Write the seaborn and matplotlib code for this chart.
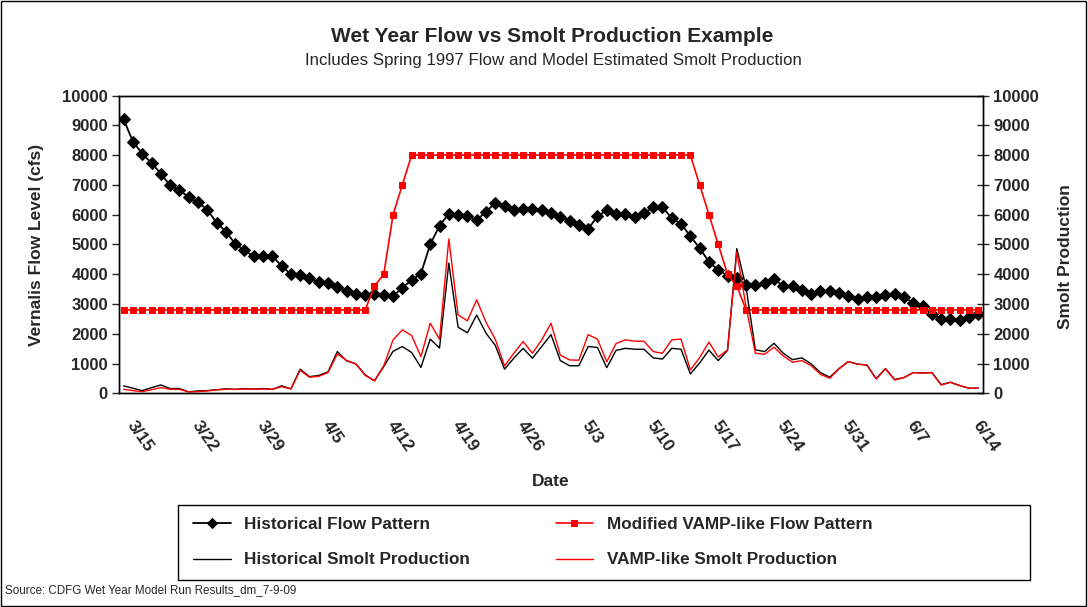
import numpy as np
import pandas as pd
import matplotlib
matplotlib.use('Agg')
import matplotlib.pyplot as plt
import seaborn as sns
from matplotlib.patches import Rectangle

# daily categories, 3/15 .. 6/15 (1997)
dates = pd.date_range('1997-03-15', periods=93)
date_labels = ['3/15', '3/22', '3/29', '4/5', '4/12', '4/19', '4/26',
               '5/3', '5/10', '5/17', '5/24', '5/31', '6/7', '6/14']

hist_flow = [9200, 8450, 8050, 7730, 7380, 6980, 6820, 6590, 6410, 6170,
             5730, 5430, 5020, 4800, 4600, 4600, 4600, 4280, 4000, 3970,
             3860, 3730, 3690, 3580, 3440, 3350, 3290, 3340, 3290, 3260,
             3550, 3800, 4020, 5000, 5630, 6030, 5980, 5940, 5810, 6100,
             6390, 6290, 6170, 6190, 6190, 6140, 6050, 5920, 5790, 5660,
             5520, 5940, 6150, 6020, 6010, 5930, 6040, 6260, 6260, 5870,
             5700, 5270, 4880, 4410, 4140, 3950, 3860, 3650, 3650, 3700,
             3830, 3610, 3610, 3460, 3340, 3430, 3430, 3380, 3260, 3170,
             3240, 3240, 3290, 3320, 3230, 3030, 2920, 2660, 2490, 2480,
             2470, 2560, 2670]

vamp_flow = [2800] * 27 + [3600, 4000, 6000, 7000] + [8000] * 31 + \
            [7000, 6000, 5000, 4000, 3600] + [2800] * 26

hist_smolt = [250, 170, 90, 190, 280, 160, 160, 50, 80, 90,
              120, 150, 130, 160, 140, 160, 130, 250, 150, 810,
              560, 600, 720, 1400, 1090, 990, 620, 420, 900, 1410,
              1570, 1370, 870, 1820, 1520, 4370, 2220, 2030, 2630, 2020,
              1610, 810, 1180, 1510, 1180, 1570, 1970, 1100, 925, 925,
              1570, 1540, 860, 1440, 1510, 1480, 1480, 1190, 1150, 1510,
              1480, 650, 1020, 1450, 1100, 1440, 4860, 3550, 1460, 1400,
              1680, 1345, 1130, 1190, 990, 695, 540, 830, 1065, 980,
              950, 490, 830, 460, 530, 695, 685, 695, 290, 370,
              260, 170, 170]

vamp_smolt = [135, 90, 56, 120, 190, 135, 135, 45, 56, 80,
              112, 135, 135, 146, 135, 146, 135, 224, 146, 773,
              540, 570, 695, 1320, 1100, 987, 600, 420, 925, 1794,
              2130, 1939, 1233, 2354, 1816, 5179, 2634, 2433, 3139, 2388,
              1816, 919, 1345, 1738, 1345, 1794, 2354, 1280, 1121, 1110,
              1970, 1820, 1060, 1670, 1794, 1750, 1750, 1401, 1345, 1794,
              1820, 785, 1200, 1720, 1220, 1457, 4750, 2900, 1345, 1311,
              1547, 1255, 1043, 1099, 930, 639, 504, 818, 1065, 975,
              953, 482, 818, 448, 527, 695, 680, 695, 280, 370,
              258, 168, 168]

df = pd.DataFrame({'day': np.arange(len(dates)),
                   'hist_flow': hist_flow, 'vamp_flow': vamp_flow,
                   'hist_smolt': hist_smolt, 'vamp_smolt': vamp_smolt})

sns.set_style('white')
plt.rcParams['font.family'] = ['Liberation Sans', 'DejaVu Sans']

W, H = 1088, 607
fig = plt.figure(figsize=(W / 100, H / 100), dpi=100)
ax = fig.add_axes([119 / W, 1 - 393.3 / H, (983 - 119) / W, (393.3 - 95.5) / H])
ax2 = ax.twinx()

# flow series on the left axis
sns.lineplot(data=df, x='day', y='hist_flow', ax=ax, color='black', lw=1.3,
             marker='D', markersize=6.5, markeredgecolor='black',
             label='Historical Flow Pattern', legend=False)
sns.lineplot(data=df, x='day', y='vamp_flow', ax=ax, color='#ff0000', lw=1.2,
             marker='s', markersize=5.0, markeredgecolor='#ff0000',
             label='Modified VAMP-like Flow Pattern', legend=False)

# smolt series on the right axis
sns.lineplot(data=df, x='day', y='hist_smolt', ax=ax2, color='black', lw=1.0,
             label='Historical Smolt Production', legend=False)
sns.lineplot(data=df, x='day', y='vamp_smolt', ax=ax2, color='#ff0000', lw=1.0,
             label='VAMP-like Smolt Production', legend=False)

for a in (ax, ax2):
    a.set_ylim(0, 10000)
    a.set_yticks(np.arange(0, 10001, 1000))
    a.set_xlim(-0.5, len(dates) - 0.5)
    a.set_xlabel('')
    a.set_ylabel('')
    for s in a.spines.values():
        s.set_color('black')
        s.set_linewidth(1.0)

ax.tick_params(axis='y', direction='out', length=5, width=1, labelsize=12, pad=3)
ax2.tick_params(axis='y', direction='inout', length=9, width=1, labelsize=12, pad=3)
for lbl in ax.get_yticklabels() + ax2.get_yticklabels():
    lbl.set_fontweight('bold')

# category boundaries every 7 days, labels just right of the category centre
ax.set_xticks(np.arange(-0.5, len(dates), 7))
ax.set_xticklabels([])
ax.tick_params(axis='x', which='major', direction='out', length=5, width=1)
ax.set_xticks(np.arange(0, len(dates), 7) + 0.7, minor=True)
ax.set_xticklabels(date_labels, minor=True, rotation=-55, ha='left', va='center',
                   rotation_mode='anchor', fontsize=12.5, fontweight='bold')
ax.tick_params(axis='x', which='minor', length=0, pad=21)
ax2.set_xticks([])

fig.text(552 / W, 1 - 37 / H, 'Wet Year Flow vs Smolt Production Example',
         ha='center', va='center', fontsize=15, fontweight='bold')
fig.text(553 / W, 1 - 61 / H, 'Includes Spring 1997 Flow and Model Estimated Smolt Production',
         ha='center', va='center', fontsize=12.2)
fig.text(37 / W, 1 - 245 / H, 'Vernalis Flow Level (cfs)', rotation=90,
         ha='center', va='center', fontsize=12.5, fontweight='bold')
fig.text(1066 / W, 1 - 257 / H, 'Smolt Production', rotation=90,
         ha='center', va='center', fontsize=12.5, fontweight='bold')
fig.text(551 / W, 1 - 481 / H, 'Date', ha='center', va='center',
         fontsize=12.5, fontweight='bold')
fig.text(5 / W, 1 - 590 / H, 'Source: CDFG Wet Year Model Run Results_dm_7-9-09',
         ha='left', va='center', fontsize=8.4)

h1, l1 = ax.get_legend_handles_labels()
h2, l2 = ax2.get_legend_handles_labels()
handles = [h1[0], h2[0], h1[1], h2[1]]
labels = [l1[0], l2[0], l1[1], l2[1]]
leg = fig.legend(handles, labels, ncol=2, loc='upper left',
                 bbox_to_anchor=(193 / W, 1 - 517 / H),
                 prop={'weight': 'bold', 'size': 12.3}, frameon=False,
                 handlelength=2.2, handletextpad=0.8, columnspacing=5.0,
                 labelspacing=1.2, borderpad=0, borderaxespad=0, markerscale=0.8)

# legend box and chart border
fig.patches.append(Rectangle((178 / W, 1 - 580 / H), 852 / W, 75 / H,
                             transform=fig.transFigure, fill=False,
                             edgecolor='black', lw=1.0))
fig.patches.append(Rectangle((0.0005, 0.001), 0.998, 0.997, transform=fig.transFigure,
                             fill=False, edgecolor='black', lw=1.0))

fig.savefig('out.png', dpi=100, facecolor='white')
